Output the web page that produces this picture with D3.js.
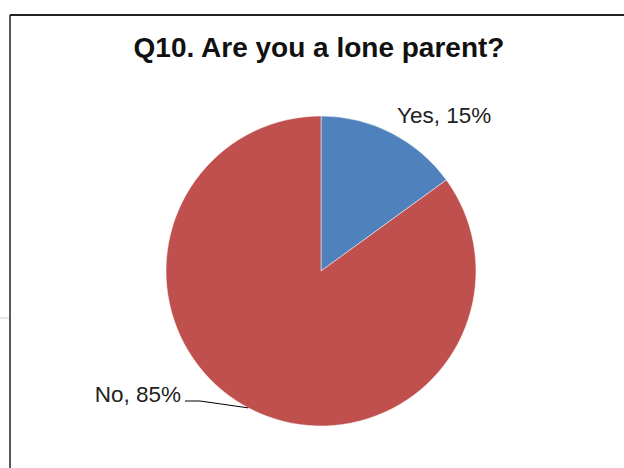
<!DOCTYPE html>
<html><head><meta charset="utf-8">
<script src="https://cdn.jsdelivr.net/npm/d3@7"></script>
<style>body{margin:0;background:#fff}svg{display:block}</style>
</head><body>
<script>
const categories = ["Yes", "No"];
const values = [15, 85];
const colors = ["#4f81bd", "#c0504d"];
const title = "Q10. Are you a lone parent?";

const W = 624, H = 468;
const svg = d3.select("body").append("svg").attr("width", W).attr("height", H);

// frame
svg.append("line").attr("x1", 10).attr("x2", W).attr("y1", 15).attr("y2", 15).attr("stroke", "#222").attr("stroke-width", 2);
svg.append("line").attr("x1", 10).attr("x2", 10).attr("y1", 15).attr("y2", H).attr("stroke", "#222").attr("stroke-width", 1.5);
svg.append("line").attr("x1", 0).attr("x2", 9).attr("y1", 318).attr("y2", 318).attr("stroke", "#ccc").attr("stroke-width", 1);

const font = "Liberation Sans, Arial, sans-serif";
svg.append("text").attr("x", 319).attr("y", 57).attr("text-anchor", "middle")
  .attr("font-family", font).attr("font-weight", "bold").attr("font-size", 28)
  .attr("fill", "#111").text(title);

const cx = 321, cy = 271, r = 155;
const data = categories.map((c, i) => ({cat: c, val: values[i], color: colors[i]}));
const pie = d3.pie().value(d => d.val).sort(null);
const arcs = pie(data);
const arc = d3.arc().innerRadius(0).outerRadius(r);
const g = svg.append("g").attr("transform", `translate(${cx},${cy})`);
g.selectAll("path").data(arcs).join("path").attr("d", arc).attr("fill", d => d.data.color)
  .attr("stroke", "#fff").attr("stroke-width", 0.5);

// Yes label
svg.append("text").attr("x", 397).attr("y", 123).attr("font-family", font).attr("font-size", 22.5).attr("fill", "#222")
  .text(`${categories[0]}, ${values[0]}%`);
// No label with leader
svg.append("text").attr("x", 181).attr("y", 402).attr("text-anchor", "end").attr("font-family", font).attr("font-size", 22.5).attr("fill", "#222")
  .text(`${categories[1]}, ${values[1]}%`);
const a = 3.63; // angle on the No slice, clockwise from top
const ex = cx + r * Math.sin(a), ey = cy - r * Math.cos(a);
svg.append("path").attr("d", `M185,401 L200,401 L${ex},${ey}`).attr("fill", "none").attr("stroke", "#000").attr("stroke-width", 1);
</script>
</body></html>
